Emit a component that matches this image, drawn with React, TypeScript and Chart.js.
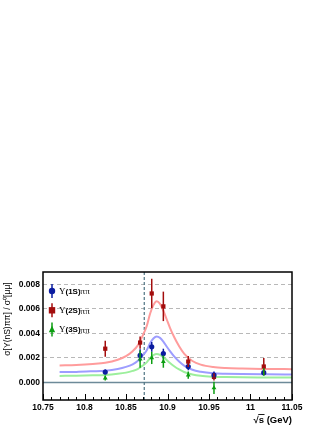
import React, { useEffect, useRef } from 'react';
import { Chart, registerables } from 'chart.js';

Chart.register(...registerables);

// ---- data ----
const energies = [10.825, 10.867, 10.881, 10.895, 10.925, 10.956, 11.016];

const ups1S = [0.00085, 0.0022, 0.0029, 0.00235, 0.0013, 0.0006, 0.0008];
const ups1SErr = [0.0002, 0.0005, 0.0004, 0.0004, 0.0003, 0.0003, 0.0002];

const ups2S = [0.00275, 0.00325, 0.00725, 0.0062, 0.0017, 0.00045, 0.0013];
const ups2SErr = [0.00065, 0.0005, 0.0012, 0.0012, 0.00045, 0.0003, 0.0007];

const ups3S = [0.00035, 0.0019, 0.002, 0.0017, 0.0006, -0.00045, 0.00085];
const ups3SErr = [0.0002, 0.0007, 0.0005, 0.0005, 0.0003, 0.0005, 0.0003];

const fitX = [10.77, 10.79, 10.81, 10.825, 10.84, 10.85, 10.858, 10.864, 10.87, 10.875, 10.879, 10.883, 10.887, 10.891, 10.895, 10.899, 10.903, 10.908, 10.914, 10.92, 10.93, 10.94, 10.955, 10.97, 10.99, 11.02, 11.05];
const fit2S = [0.00138, 0.00142, 0.0015, 0.0016, 0.00185, 0.00215, 0.00255, 0.003, 0.0038, 0.0046, 0.0056, 0.0063, 0.00662, 0.0064, 0.00585, 0.00515, 0.00445, 0.0037, 0.00295, 0.00235, 0.00175, 0.00145, 0.00125, 0.00117, 0.00113, 0.0011, 0.00108];
const fit1S = [0.00085, 0.00086, 0.00091, 0.00096, 0.0011, 0.00127, 0.00148, 0.00174, 0.00219, 0.00263, 0.00319, 0.00358, 0.00374, 0.00363, 0.00333, 0.00293, 0.00255, 0.00212, 0.0017, 0.00137, 0.00103, 0.00087, 0.00075, 0.00071, 0.00068, 0.00066, 0.00065];
const fit3S = [0.00053, 0.00055, 0.00058, 0.00061, 0.0007, 0.0008, 0.00094, 0.00109, 0.00137, 0.00164, 0.00198, 0.00222, 0.00232, 0.00225, 0.00206, 0.00182, 0.00158, 0.00132, 0.00106, 0.00085, 0.00065, 0.00054, 0.00047, 0.00044, 0.00042, 0.00041, 0.0004];

const xTicks = [10.75, 10.8, 10.85, 10.9, 10.95, 11, 11.05];
const xTickLabels = ['10.75', '10.8', '10.85', '10.9', '10.95', '11', '11.05'];
const yTicks = [0, 0.002, 0.004, 0.006, 0.008];
const yTickLabels = ['0.000', '0.002', '0.004', '0.006', '0.008'];

const xMin = 10.75;
const xMax = 11.05;
const yMin = -0.00143;
const yMax = 0.009;
const peakLine = 10.872;

const seriesNames = ['(1S)', '(2S)', '(3S)'];
const markerColors = ['#0b1ca0', '#a30d0d', '#0c9e12'];
const curveColors = ['#9d9dff', '#ff9c9c', '#9cef9c'];
const markerStyles = ['circle', 'rect', 'triangle'];

const SANS = '"Liberation Sans", Arial, Helvetica, sans-serif';
const SERIF = '"Liberation Serif", "Times New Roman", serif';

const seriesVals = [ups1S, ups2S, ups3S];
const seriesErrs = [ups1SErr, ups2SErr, ups3SErr];
const fits = [fit1S, fit2S, fit3S];

function drawMarker(ctx: CanvasRenderingContext2D, style: string, x: number, y: number, r: number, color: string) {
  ctx.fillStyle = color;
  ctx.beginPath();
  if (style === 'circle') {
    ctx.arc(x, y, r, 0, Math.PI * 2);
  } else if (style === 'rect') {
    ctx.rect(x - r, y - r, 2 * r, 2 * r);
  } else {
    ctx.moveTo(x, y - r * 1.2);
    ctx.lineTo(x + r, y + r * 0.8);
    ctx.lineTo(x - r, y + r * 0.8);
    ctx.closePath();
  }
  ctx.fill();
}

const decorPlugin = {
  id: 'decor',
  beforeDatasetsDraw(chart: any) {
    const { ctx, chartArea: a, scales } = chart;
    const x = scales.x;
    const y = scales.y;
    ctx.save();
    // zero line
    const y0 = y.getPixelForValue(0);
    ctx.strokeStyle = '#6d8a99';
    ctx.lineWidth = 1.5;
    ctx.beginPath();
    ctx.moveTo(a.left, y0);
    ctx.lineTo(a.right, y0);
    ctx.stroke();
    // dashed vertical line
    const xp = x.getPixelForValue(peakLine);
    ctx.strokeStyle = '#4f7484';
    ctx.lineWidth = 1.2;
    ctx.setLineDash([3, 2]);
    ctx.beginPath();
    ctx.moveTo(xp, a.top);
    ctx.lineTo(xp, a.bottom);
    ctx.stroke();
    ctx.restore();
  },
  afterDatasetsDraw(chart: any) {
    const { ctx, scales } = chart;
    const x = scales.x;
    const y = scales.y;
    ctx.save();
    // error bars
    ctx.lineWidth = 1.5;
    for (let s = 0; s < 3; s++) {
      ctx.strokeStyle = markerColors[s];
      for (let i = 0; i < energies.length; i++) {
        const px = x.getPixelForValue(energies[i]);
        const lo = y.getPixelForValue(seriesVals[s][i] - seriesErrs[s][i]);
        const hi = y.getPixelForValue(seriesVals[s][i] + seriesErrs[s][i]);
        ctx.beginPath();
        ctx.moveTo(px, lo);
        ctx.lineTo(px, hi);
        ctx.stroke();
      }
    }
    ctx.restore();
  },
  afterDraw(chart: any) {
    const { ctx, chartArea: a, scales } = chart;
    const x = scales.x;
    ctx.save();
    // frame
    ctx.strokeStyle = '#000';
    ctx.lineWidth = 1.5;
    ctx.strokeRect(a.left, a.top, a.right - a.left, a.bottom - a.top);
    // x minor / major ticks
    ctx.lineWidth = 1;
    for (let i = 0; i <= 30; i++) {
      const v = xMin + i * 0.01;
      const px = Math.round(x.getPixelForValue(v)) + 0.5;
      const len = i % 5 === 0 ? 6 : 3;
      ctx.beginPath();
      ctx.moveTo(px, a.bottom);
      ctx.lineTo(px, a.bottom - len);
      ctx.stroke();
    }
    // legend
    const lx = a.left + 9;
    for (let s = 0; s < 3; s++) {
      const ly = a.top + 19 + s * 19.3;
      ctx.strokeStyle = markerColors[s];
      ctx.lineWidth = 1.5;
      ctx.beginPath();
      ctx.moveTo(lx, ly - 7);
      ctx.lineTo(lx, ly + 7);
      ctx.stroke();
      drawMarker(ctx, markerStyles[s], lx, ly, 3.2, markerColors[s]);
      ctx.fillStyle = '#000';
      ctx.textBaseline = 'middle';
      ctx.textAlign = 'left';
      let tx = lx + 7;
      ctx.font = `9px ${SERIF}`;
      ctx.fillText('\u03A5', tx, ly + 0.5);
      tx += ctx.measureText('\u03A5').width;
      ctx.font = `bold 8px ${SANS}`;
      ctx.fillText(seriesNames[s], tx, ly + 0.5);
      tx += ctx.measureText(seriesNames[s]).width;
      ctx.font = `9px ${SERIF}`;
      ctx.fillText('\u03C0\u03C0', tx, ly + 1);
    }
    // y title
    ctx.save();
    ctx.translate(8, 319);
    ctx.rotate(-Math.PI / 2);
    ctx.textAlign = 'center';
    ctx.textBaseline = 'middle';
    ctx.fillStyle = '#000';
    ctx.font = `8.5px ${SANS}`;
    ctx.fillText('\u03C3[\u03A5(nS)\u03C0\u03C0] / \u03C3\u2070[\u03BC\u03BC]', 0, 0);
    ctx.restore();
    // x title
    ctx.font = `bold 9.5px ${SANS}`;
    ctx.fillStyle = '#000';
    ctx.textBaseline = 'alphabetic';
    ctx.textAlign = 'left';
    const rest = 's (GeV)';
    const wr = ctx.measureText(rest).width;
    const wsq = ctx.measureText('\u221A').width;
    const ws = ctx.measureText('s').width;
    const x0 = a.right - wr - wsq;
    const base = 423;
    ctx.fillText('\u221A', x0, base);
    ctx.fillText(rest, x0 + wsq, base);
    ctx.lineWidth = 0.9;
    ctx.strokeStyle = '#000';
    ctx.beginPath();
    ctx.moveTo(x0 + wsq - 0.5, base - 8.5);
    ctx.lineTo(x0 + wsq + ws + 0.5, base - 8.5);
    ctx.stroke();
    ctx.restore();
  },
};

export default function App() {
  const ref = useRef<HTMLCanvasElement>(null);
  useEffect(() => {
    const tickFont = { family: SANS, size: 8.5, weight: 'bold' as const };
    const datasets: any[] = [];
    for (let s = 0; s < 3; s++) {
      datasets.push({
        label: 'fit' + seriesNames[s],
        data: fitX.map((v, i) => ({ x: v, y: fits[s][i] })),
        showLine: true,
        borderColor: curveColors[s],
        borderWidth: 2,
        pointRadius: 0,
        cubicInterpolationMode: 'monotone',
        fill: false,
        order: 3,
      });
    }
    for (let s = 0; s < 3; s++) {
      datasets.push({
        label: 'data' + seriesNames[s],
        data: energies.map((v, i) => ({ x: v, y: seriesVals[s][i] })),
        showLine: false,
        pointStyle: markerStyles[s],
        pointRadius: s === 1 ? 3 : s === 0 ? 2.6 : 2.8,
        pointBackgroundColor: markerColors[s],
        pointBorderColor: markerColors[s],
        pointBorderWidth: 0,
        order: 1,
      });
    }
    const chart = new Chart(ref.current as HTMLCanvasElement, {
      type: 'scatter',
      data: { datasets },
      plugins: [decorPlugin],
      options: {
        responsive: false,
        animation: false,
        events: [],
        layout: { padding: { top: 272, right: 40, bottom: 0, left: 0 } },
        plugins: { legend: { display: false }, tooltip: { enabled: false } },
        scales: {
          x: {
            type: 'linear',
            min: xMin,
            max: xMax,
            afterBuildTicks: (s: any) => {
              s.ticks = xTicks.map((v) => ({ value: v }));
            },
            afterFit: (s: any) => {
              s.height = 30;
            },
            ticks: {
              autoSkip: false,
              maxRotation: 0,
              padding: 3,
              color: '#000',
              font: tickFont,
              callback: (_v: any, i: number) => xTickLabels[i],
            },
            grid: { display: false, drawTicks: false },
            border: { display: false },
          },
          y: {
            type: 'linear',
            min: yMin,
            max: yMax,
            afterBuildTicks: (s: any) => {
              s.ticks = yTicks.map((v) => ({ value: v }));
            },
            afterFit: (s: any) => {
              s.width = 43;
            },
            ticks: {
              padding: 3,
              color: '#000',
              font: tickFont,
              callback: (_v: any, i: number) => yTickLabels[i],
            },
            grid: {
              drawTicks: false,
              lineWidth: 1,
              color: (c: any) => (c.tick && c.tick.value === 0 ? 'rgba(0,0,0,0)' : '#b8b8b8'),
            },
            border: { display: false, dash: [4, 3] },
          },
        },
      } as any,
    });
    return () => chart.destroy();
  }, []);
  return (
    <div style={{ position: 'absolute', left: 0, top: 0, width: 332, height: 430 }}>
      <canvas ref={ref} width={332} height={430} style={{ display: 'block' }} />
    </div>
  );
}
